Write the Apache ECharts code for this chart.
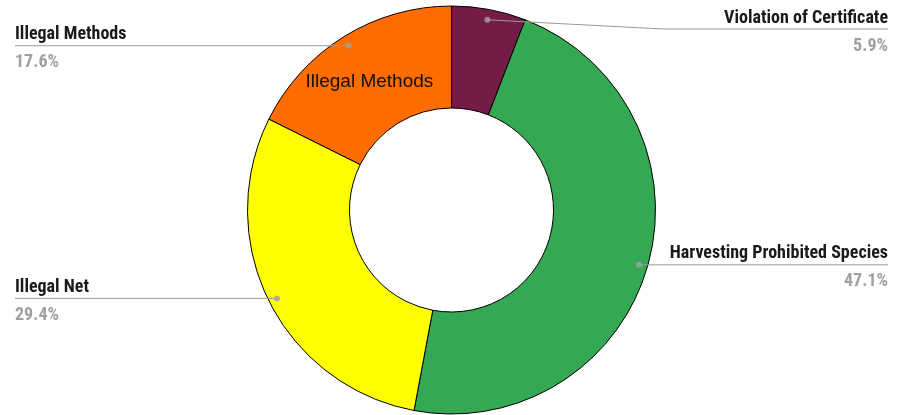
<!DOCTYPE html>
<html><head><meta charset="utf-8">
<script src="https://cdn.jsdelivr.net/npm/echarts@6/dist/echarts.min.js"></script>
<style>html,body{margin:0;padding:0;background:#fff}#c{width:906px;height:415px}</style>
</head><body><div id="c"></div>
<script>
const categories = ['Violation of Certificate', 'Harvesting Prohibited Species', 'Illegal Net', 'Illegal Methods'];
const counts = [1, 8, 5, 3];
const colors = ['#741b47', '#34a853', '#ffff00', '#ff6d01'];
const insideLabelCategory = 'Illegal Methods';

const CX = 451.5, CY = 210, R_OUT = 204, R_IN = 102;
const LCY = 211.5, R_DOT = 195;
const EDGE_L = 15, EDGE_R = 888;
const total = counts.reduce((a, b) => a + b, 0);
const cum = [];
counts.reduce((acc, v) => { cum.push(acc + v / 2); return acc + v; }, 0);

const chart = echarts.init(document.getElementById('c'), null, {renderer: 'canvas'});
const FONT = "'Liberation Sans Narrow', 'Arial Narrow', 'Roboto Condensed', 'Liberation Sans', Arial, sans-serif";

const option = {
  backgroundColor: '#fff',
  animation: false,
  polar: {center: [CX, LCY], radius: R_DOT},
  angleAxis: {type: 'value', min: 0, max: total, startAngle: 90, clockwise: true, show: false},
  radiusAxis: {type: 'value', min: 0, max: R_DOT, show: false},
  series: [
    {
      type: 'pie', center: [CX, CY], radius: [R_IN, R_OUT], startAngle: 90, clockwise: true,
      silent: true,
      itemStyle: {borderColor: '#000', borderWidth: 1},
      emphasis: {disabled: true},
      label: {show: false},
      labelLine: {show: false},
      data: categories.map((c, i) => ({
        name: c, value: counts[i], itemStyle: {color: colors[i]},
        label: c === insideLabelCategory ? {
          show: true, position: 'inside', formatter: '{b}', offset: [0, 4],
          fontFamily: "'Liberation Sans', Arial, sans-serif", fontSize: 19, color: '#111'
        } : {show: false}
      }))
    },
    {
      type: 'pie', center: [CX, LCY], radius: [0, R_DOT], startAngle: 90, clockwise: true,
      silent: true, z: 5,
      itemStyle: {color: 'rgba(0,0,0,0)', borderWidth: 0},
      emphasis: {disabled: true},
      label: {
        show: true, position: 'outside',
        formatter: p => '{n|' + p.name + '}\n{p|' + (p.value / total * 100).toFixed(1) + '%}',
        rich: {
          n: {fontFamily: FONT, fontWeight: 'bold', fontSize: 18, color: '#1a1a1a', lineHeight: 28},
          p: {fontFamily: FONT, fontWeight: 'bold', fontSize: 18, color: '#a0a0a0', lineHeight: 28}
        }
      },
      labelLine: {show: true, length: 10, length2: 10, lineStyle: {color: '#9a9a9a', width: 1}},
      labelLayout: function (params) {
        const p0 = params.labelLinePoints[0];
        const right = p0[0] > CX;
        const w = params.labelRect.width, h = params.labelRect.height;
        const y = Math.max(p0[1], h / 2 + 6);
        if (right) {
          const elbow = y !== p0[1] ? [EDGE_R - w - 61, y] : [(p0[0] + EDGE_R) / 2, y];
          return {x: EDGE_R, y: y + 3, align: 'right', verticalAlign: 'middle',
                  labelLinePoints: [p0, elbow, [EDGE_R, y]]};
        }
        return {x: EDGE_L, y: y + 3, align: 'left', verticalAlign: 'middle',
                labelLinePoints: [p0, [(p0[0] + EDGE_L) / 2, y], [EDGE_L, y]]};
      },
      data: categories.map((c, i) => ({name: c, value: counts[i]}))
    },
    {
      type: 'scatter', coordinateSystem: 'polar', symbol: 'circle', symbolSize: 6, silent: true, z: 6,
      itemStyle: {color: '#a0a0a0'},
      data: cum.map(v => [R_DOT, v])
    }
  ]
};
chart.setOption(option);
</script>
</body></html>
